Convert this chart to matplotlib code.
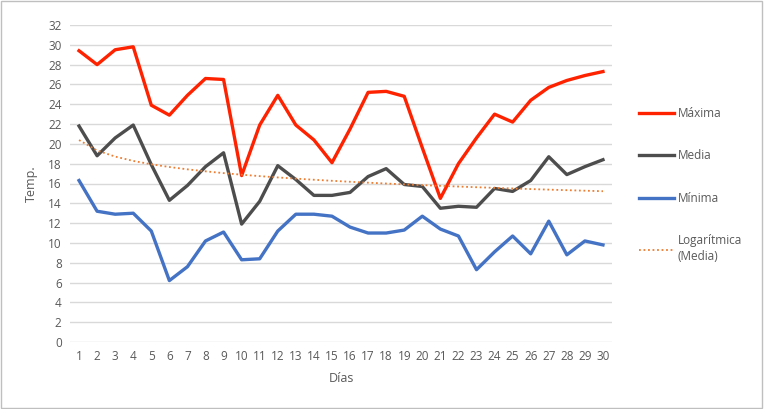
import matplotlib.pyplot as plt
import numpy as np
from matplotlib.patches import Rectangle

dias = list(range(1, 31))
maxima = [29.4, 28.0, 29.5, 29.8, 23.9, 22.9, 24.9, 26.6, 26.5, 16.8,
          21.9, 24.9, 21.9, 20.4, 18.1, 21.5, 25.2, 25.3, 24.8, 19.6,
          14.5, 18.0, 20.6, 23.0, 22.2, 24.4, 25.7, 26.4, 26.9, 27.3]
media = [21.8, 18.8, 20.6, 21.9, 17.9, 14.3, 15.8, 17.7, 19.1, 11.9,
         14.2, 17.8, 16.4, 14.8, 14.8, 15.1, 16.7, 17.5, 15.9, 15.7,
         13.5, 13.7, 13.6, 15.5, 15.2, 16.3, 18.7, 16.9, 17.7, 18.4]
minima = [16.3, 13.2, 12.9, 13.0, 11.2, 6.2, 7.6, 10.2, 11.1, 8.3,
          8.4, 11.2, 12.9, 12.9, 12.7, 11.6, 11.0, 11.0, 11.3, 12.7,
          11.4, 10.7, 7.3, 9.1, 10.7, 8.9, 12.2, 8.8, 10.2, 9.8]

txt = '#595959'
plt.rcParams['font.family'] = ['Open Sans', 'DejaVu Sans']

fig = plt.figure(figsize=(7.64, 4.09), dpi=100)
ax = fig.add_axes([70/764, 1 - 342/409, 542/764, 317/409])

x = np.array(dias)
ax.plot(x, maxima, color='#FF2200', lw=2.4, label='Máxima')
ax.plot(x, media, color='#4D4D4D', lw=2.4, label='Media')
ax.plot(x, minima, color='#4472C4', lw=2.4, label='Mínima')

# logarithmic trendline of Media
b, a = np.polyfit(np.log(x), media, 1)
ax.plot(x, a + b * np.log(x), color='#ED7D31', lw=1.3, ls=(0, (1, 1.5)),
        label='Logarítmica\n(Media)')

ax.set_xlim(0.5, 30.5)
ax.set_ylim(0, 32)
ax.set_xticks(dias)
ax.set_yticks(range(0, 33, 2))
ax.grid(axis='y', color='#D9D9D9', lw=1)
ax.set_axisbelow(True)
for s in ax.spines.values():
    s.set_visible(False)
ax.tick_params(length=0, labelsize=8.5, colors=txt, pad=6)
ax.set_xlabel('Días', color=txt, fontsize=9, labelpad=6)
ax.set_ylabel('Temp.', color=txt, fontsize=9, labelpad=7)

leg = ax.legend(loc='upper left', bbox_to_anchor=(1.03, 0.775), frameon=False,
                fontsize=8.5, labelspacing=2.5, handlelength=3.0,
                handletextpad=0.3, labelcolor=txt)
for t in leg.get_texts():
    t.set_linespacing(1.3)

fig.patches.append(Rectangle((0.001, 0.002), 0.997, 0.995, transform=fig.transFigure,
                             fill=False, edgecolor='#BFBFBF', lw=1))

fig.savefig('out.png', dpi=100)
